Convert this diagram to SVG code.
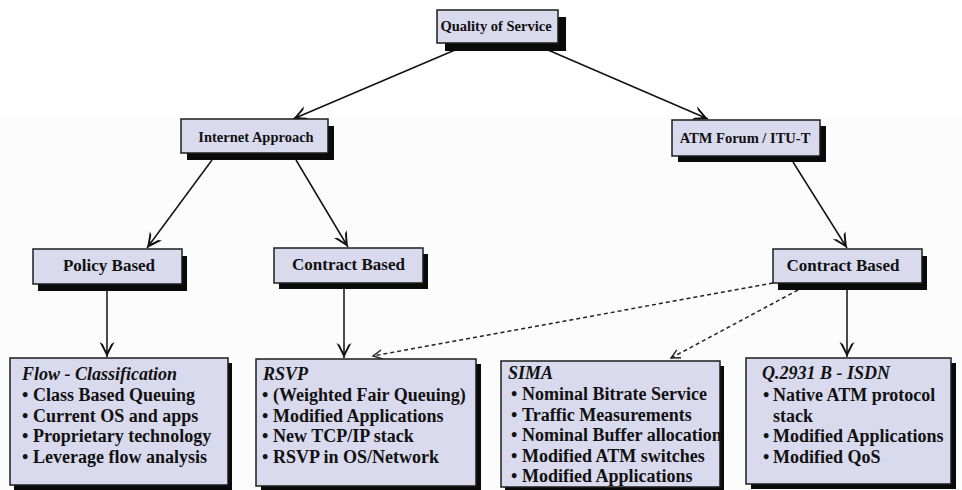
<svg xmlns="http://www.w3.org/2000/svg" width="962" height="490" viewBox="0 0 962 490">
  <defs>
    <style>
      .box { fill: #dadaee; stroke: #1c1c1c; stroke-width: 1.5; }
      .shadow { fill: #0a0a0a; }
      .t { font-family: "Liberation Serif", "Times New Roman", serif; font-weight: bold; fill: #111; }
      .t1 { font-size: 14.5px; text-anchor: middle; }
      .t2 { font-size: 17px; text-anchor: middle; }
      .t3 { font-size: 18px; }
      .ti { font-style: italic; }
      .link { fill: none; stroke: #111; stroke-width: 1.5; }
      .dash { fill: none; stroke: #222; stroke-width: 1.5; stroke-dasharray: 4 3; }
    </style>
    <!-- barbed arrowhead for solid connectors -->
    <marker id="arr" viewBox="-17 -9 19 18" refX="0" refY="0" markerWidth="19" markerHeight="18" markerUnits="userSpaceOnUse" orient="auto">
      <path d="M0,0 Q-6,-2.8 -15,-7.5 L-13,-4.2 Q-7.5,-1.7 -5,0 Q-7.5,1.7 -13,4.2 L-15,7.5 Q-6,2.8 0,0 Z" fill="#111"/>
    </marker>
    <!-- light open arrowhead for dashed connectors -->
    <marker id="arrd" viewBox="-12 -7 14 14" refX="0" refY="0" markerWidth="14" markerHeight="14" markerUnits="userSpaceOnUse" orient="auto">
      <path d="M-9,-4.5 L0,0 L-9,4.5" fill="none" stroke="#222" stroke-width="1.4"/>
    </marker>
  </defs>

  <rect x="0" y="0" width="962" height="490" fill="#ffffff"/>
  <rect x="0" y="118" width="962" height="372" fill="#fcfcfc"/>

  <!-- connectors -->
  <g id="connectors">
    <path class="link" d="M455,50 L293,119" marker-end="url(#arr)"/>
    <path class="link" d="M548,50 L708,119" marker-end="url(#arr)"/>
    <path class="link" d="M212,160 L147,248" marker-end="url(#arr)"/>
    <path class="link" d="M296,160 L348,247" marker-end="url(#arr)"/>
    <path class="link" d="M793,162 L847,248" marker-end="url(#arr)"/>
    <path class="link" d="M107,291 L107,357" marker-end="url(#arr)"/>
    <path class="link" d="M344,289 L344,358" marker-end="url(#arr)"/>
    <path class="link" d="M847,290 L847,357" marker-end="url(#arr)"/>
    <path class="dash" d="M773,283 L373,356" marker-end="url(#arrd)"/>
    <path class="dash" d="M798,290 L671,358" marker-end="url(#arrd)"/>
  </g>

  <!-- root -->
  <g id="n-qos">
    <rect class="shadow" x="445" y="17" width="121" height="34"/>
    <rect class="box" x="437" y="10" width="121" height="33"/>
    <text class="t t1" x="496" y="31">Quality of Service</text>
  </g>

  <!-- second level -->
  <g id="n-internet">
    <rect class="shadow" x="187" y="126" width="147" height="34"/>
    <rect class="box" x="181" y="119" width="147" height="34"/>
    <text class="t t1" x="256" y="142">Internet Approach</text>
  </g>
  <g id="n-atm">
    <rect class="shadow" x="678" y="126" width="148" height="36"/>
    <rect class="box" x="672" y="120" width="148" height="36"/>
    <text class="t t1" x="745" y="143">ATM Forum / ITU-T</text>
  </g>

  <!-- third level -->
  <g id="n-policy">
    <rect class="shadow" x="38" y="256" width="149" height="35"/>
    <rect class="box" x="33" y="249" width="149" height="35"/>
    <text class="t t2" x="109" y="271">Policy Based</text>
  </g>
  <g id="n-contract-ip">
    <rect class="shadow" x="279" y="254" width="149" height="35"/>
    <rect class="box" x="274" y="248" width="149" height="35"/>
    <text class="t t2" x="348.5" y="270">Contract Based</text>
  </g>
  <g id="n-contract-atm">
    <rect class="shadow" x="778" y="256" width="149" height="34"/>
    <rect class="box" x="773" y="249" width="149" height="34"/>
    <text class="t t2" x="843" y="271">Contract Based</text>
  </g>

  <!-- leaves -->
  <g id="n-flow">
    <rect class="shadow" x="14" y="363" width="218" height="127"/>
    <rect class="box" x="10" y="358" width="218" height="127"/>
    <text class="t t3 ti" x="22" y="380">Flow - Classification</text>
    <text class="t t3" x="22" y="401">•</text><text class="t t3" x="33" y="401">Class Based Queuing</text>
    <text class="t t3" x="22" y="421.5">•</text><text class="t t3" x="33" y="421.5">Current OS and apps</text>
    <text class="t t3" x="22" y="442">•</text><text class="t t3" x="33" y="442">Proprietary technology</text>
    <text class="t t3" x="22" y="462.5">•</text><text class="t t3" x="33" y="462.5">Leverage flow analysis</text>
  </g>
  <g id="n-rsvp">
    <rect class="shadow" x="261" y="364" width="220" height="127"/>
    <rect class="box" x="256" y="359" width="220" height="127"/>
    <text class="t t3 ti" x="263" y="380">RSVP</text>
    <text class="t t3" x="262" y="401">•</text><text class="t t3" x="273" y="401">(Weighted Fair Queuing)</text>
    <text class="t t3" x="262" y="421.5">•</text><text class="t t3" x="273" y="421.5">Modified Applications</text>
    <text class="t t3" x="262" y="442">•</text><text class="t t3" x="273" y="442">New TCP/IP stack</text>
    <text class="t t3" x="262" y="462.5">•</text><text class="t t3" x="273" y="462.5">RSVP in OS/Network</text>
  </g>
  <g id="n-sima">
    <rect class="shadow" x="505" y="366" width="219" height="126"/>
    <rect class="box" x="501" y="361" width="219" height="126"/>
    <text class="t t3 ti" x="508" y="379">SIMA</text>
    <text class="t t3" x="511" y="400">•</text><text class="t t3" x="522" y="400">Nominal Bitrate Service</text>
    <text class="t t3" x="511" y="420.5">•</text><text class="t t3" x="522" y="420.5">Traffic Measurements</text>
    <text class="t t3" x="511" y="441">•</text><text class="t t3" x="522" y="441">Nominal Buffer allocation</text>
    <text class="t t3" x="511" y="461.5">•</text><text class="t t3" x="522" y="461.5">Modified ATM switches</text>
    <text class="t t3" x="511" y="482">•</text><text class="t t3" x="522" y="482">Modified Applications</text>
  </g>
  <g id="n-q2931">
    <rect class="shadow" x="751" y="363" width="205" height="126"/>
    <rect class="box" x="746" y="358" width="205" height="126"/>
    <text class="t t3 ti" x="762" y="379">Q.2931 B - ISDN</text>
    <text class="t t3" x="763" y="401">•</text><text class="t t3" x="773" y="401">Native ATM protocol</text>
    <text class="t t3" x="773" y="421.5">stack</text>
    <text class="t t3" x="763" y="442">•</text><text class="t t3" x="773" y="442">Modified Applications</text>
    <text class="t t3" x="763" y="462.5">•</text><text class="t t3" x="773" y="462.5">Modified QoS</text>
  </g>
</svg>
